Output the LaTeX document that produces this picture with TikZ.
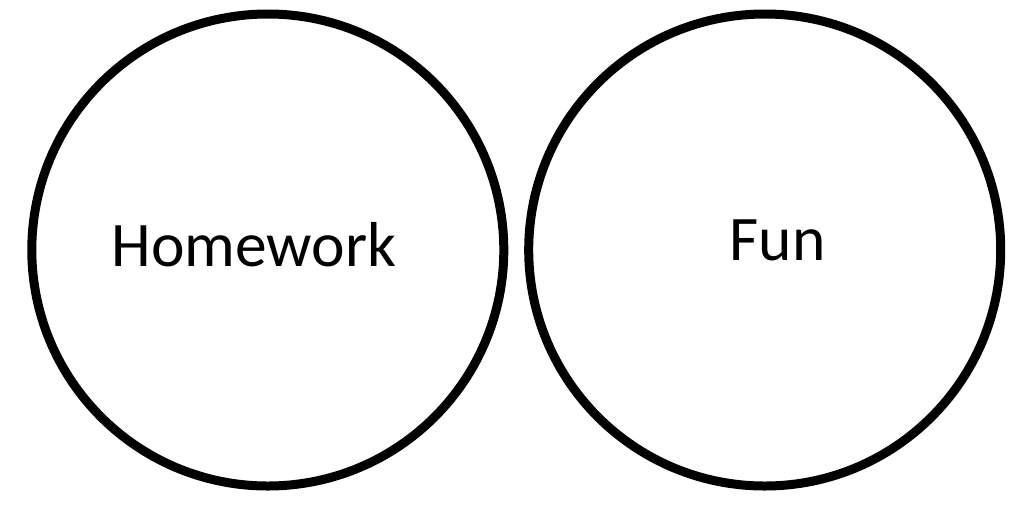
\documentclass[tikz,border=0pt]{standalone}
\usepackage{fontspec}
\setmainfont{Carlito}
\begin{document}
\begin{tikzpicture}[x=1pt,y=-1pt,
  ring/.style={draw=black,line width=9pt,circle,minimum size=472pt,inner sep=0pt},
  label/.style={anchor=base,inner sep=0pt,font=\fontsize{63.5}{63.5}\selectfont}]
\useasboundingbox (0,0) rectangle (1024,517);
\node[ring] (left) at (267.8,250) {};
\node[ring] (right) at (764.7,250) {};
\node[label] (hw) at (254,266) {Homework};
\node[label] (fun) at (777.5,260) {Fun};
\end{tikzpicture}
\end{document}
